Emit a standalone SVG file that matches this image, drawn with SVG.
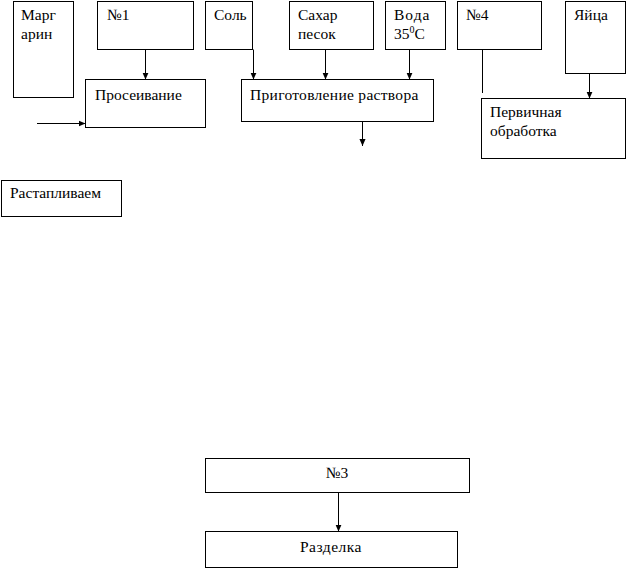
<svg xmlns="http://www.w3.org/2000/svg" width="626" height="569" viewBox="0 0 626 569">
<defs>
<marker id="ah" viewBox="0 0 8 8" refX="8" refY="4" markerWidth="7" markerHeight="7" markerUnits="userSpaceOnUse" orient="auto">
<path d="M0,0.5 L8,4 L0,7.5 Z" fill="#000"/>
</marker>
<style>
rect{fill:#fff;stroke:#000;stroke-width:1}
text{font-family:"Liberation Serif","Times New Roman",serif;font-size:15.5px;fill:#000}
.c{stroke:#000;stroke-width:1;fill:none}
.a{marker-end:url(#ah)}
</style>
</defs>
<rect x="0" y="0" width="626" height="569" style="fill:#fff;stroke:none"/>
<g id="margarin"><rect x="13.5" y="1.5" width="60" height="96"/><text x="21" y="20">Марг</text><text x="21" y="39">арин</text></g>
<g id="n1"><rect x="97.5" y="1.5" width="96" height="48"/><text x="107" y="20">№1</text></g>
<g id="sol"><rect x="205.5" y="1.5" width="47" height="48"/><text x="214" y="20">Соль</text></g>
<g id="sahar"><rect x="289.5" y="1.5" width="84" height="48"/><text x="298" y="20">Сахар</text><text x="298" y="39">песок</text></g>
<g id="voda"><rect x="385.5" y="1.5" width="60" height="48"/><text x="394" y="20" letter-spacing="1">Вода</text><text x="394" y="39">35<tspan font-size="10" dy="-6">0</tspan><tspan dy="6">С</tspan></text></g>
<g id="n4"><rect x="457.5" y="1.5" width="84" height="48"/><text x="466" y="20">№4</text></g>
<g id="yaica"><rect x="565.5" y="1.5" width="60" height="72"/><text x="574" y="20">Яйца</text></g>
<g id="proseivanie"><rect x="85.5" y="79.5" width="120" height="48"/><text x="95" y="100">Просеивание</text></g>
<g id="prigotovlenie"><rect x="241.5" y="79.5" width="192" height="42"/><text x="250" y="100" letter-spacing="0.3">Приготовление раствора</text></g>
<g id="pervichnaya"><rect x="481.5" y="98.5" width="144" height="60"/><text x="490" y="117">Первичная</text><text x="490" y="136">обработка</text></g>
<g id="rastaplivaem"><rect x="1.5" y="180.5" width="120" height="36"/><text x="10" y="198">Растапливаем</text></g>
<g id="n3"><rect x="205.5" y="458.5" width="264" height="34"/><text x="337" y="478" text-anchor="middle">№3</text></g>
<g id="razdelka"><rect x="205.5" y="531.5" width="252" height="36"/><text x="331" y="552" text-anchor="middle" letter-spacing="0.5">Разделка</text></g>
<g id="connectors">
<line class="c a" x1="145.5" y1="49.5" x2="145.5" y2="79.5"/>
<line class="c a" x1="37" y1="123.5" x2="85.5" y2="123.5"/>
<line class="c a" x1="253.5" y1="49.5" x2="253.5" y2="79.5"/>
<line class="c a" x1="325.5" y1="49.5" x2="325.5" y2="79.5"/>
<line class="c a" x1="409.5" y1="49.5" x2="409.5" y2="79.5"/>
<line class="c a" x1="362.5" y1="121.5" x2="362.5" y2="146"/>
<line class="c" x1="482.5" y1="49.5" x2="482.5" y2="93"/>
<line class="c a" x1="589.5" y1="73.5" x2="589.5" y2="98.5"/>
<line class="c a" x1="338.5" y1="492.5" x2="338.5" y2="531.5"/>
</g>
</svg>
